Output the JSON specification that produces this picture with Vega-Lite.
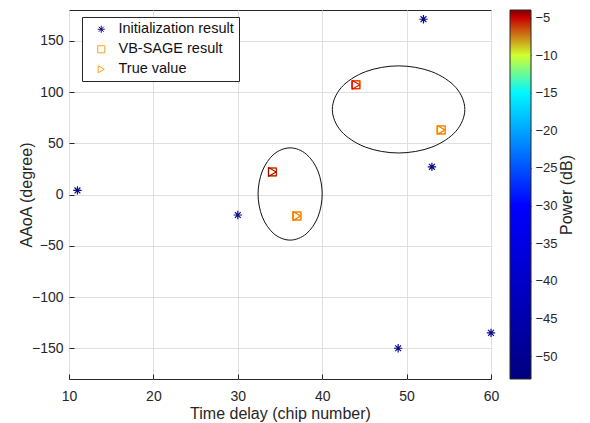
{
  "$schema": "https://vega.github.io/schema/vega-lite/v6.json",
  "width": 422,
  "height": 369,
  "autosize": "none",
  "padding": {"left": 69, "top": 10, "right": 99, "bottom": 44},
  "config": {
    "font": "Liberation Sans",
    "view": {"stroke": "#262626", "strokeWidth": 1},
    "axis": {
      "domain": false,
      "grid": true,
      "gridColor": "#dfdfdf",
      "gridOpacity": 1,
      "tickColor": "#262626",
      "tickSize": -5,
      "labelFontSize": 14,
      "labelColor": "#262626",
      "labelFlush": false,
      "titleFontSize": 16,
      "titleFontWeight": "normal",
      "titleColor": "#262626"
    }
  },
  "datasets": {
    "ellipse": [
      {"e": 1, "o": 0, "x": 40.0, "y": 0.5},
      {"e": 1, "o": 1, "x": 39.49, "y": 23.0},
      {"e": 1, "o": 2, "x": 38.1, "y": 39.47},
      {"e": 1, "o": 3, "x": 36.2, "y": 45.5},
      {"e": 1, "o": 4, "x": 34.3, "y": 39.47},
      {"e": 1, "o": 5, "x": 32.91, "y": 23.0},
      {"e": 1, "o": 6, "x": 32.4, "y": 0.5},
      {"e": 1, "o": 7, "x": 32.91, "y": -22.0},
      {"e": 1, "o": 8, "x": 34.3, "y": -38.47},
      {"e": 1, "o": 9, "x": 36.2, "y": -44.5},
      {"e": 1, "o": 10, "x": 38.1, "y": -38.47},
      {"e": 1, "o": 11, "x": 39.49, "y": -22.0},
      {"e": 2, "o": 0, "x": 56.9, "y": 83},
      {"e": 2, "o": 1, "x": 55.85, "y": 104.25},
      {"e": 2, "o": 2, "x": 52.98, "y": 119.81},
      {"e": 2, "o": 3, "x": 49.05, "y": 125.5},
      {"e": 2, "o": 4, "x": 45.13, "y": 119.81},
      {"e": 2, "o": 5, "x": 42.25, "y": 104.25},
      {"e": 2, "o": 6, "x": 41.2, "y": 83},
      {"e": 2, "o": 7, "x": 42.25, "y": 61.75},
      {"e": 2, "o": 8, "x": 45.13, "y": 46.19},
      {"e": 2, "o": 9, "x": 49.05, "y": 40.5},
      {"e": 2, "o": 10, "x": 52.98, "y": 46.19},
      {"e": 2, "o": 11, "x": 55.85, "y": 61.75}
    ],
    "pts": [
      {"series": "Initialization result", "x": 11, "y": 4, "power": -53},
      {"series": "Initialization result", "x": 30, "y": -20, "power": -53},
      {"series": "Initialization result", "x": 52, "y": 171, "power": -53},
      {"series": "Initialization result", "x": 53, "y": 27, "power": -53},
      {"series": "Initialization result", "x": 49, "y": -150, "power": -53},
      {"series": "Initialization result", "x": 60, "y": -135, "power": -53},
      {"series": "VB-SAGE result", "x": 34.1, "y": 22, "power": -4.5},
      {"series": "VB-SAGE result", "x": 37.0, "y": -21, "power": -7.3},
      {"series": "VB-SAGE result", "x": 44.0, "y": 107, "power": -5.6},
      {"series": "VB-SAGE result", "x": 54.1, "y": 63, "power": -7.4},
      {"series": "True value", "x": 34.1, "y": 22, "power": -4.5},
      {"series": "True value", "x": 37.0, "y": -21, "power": -7.3},
      {"series": "True value", "x": 44.0, "y": 107, "power": -5.6},
      {"series": "True value", "x": 54.1, "y": 63, "power": -7.4}
    ]
  },
  "resolve": {"scale": {"y": "independent"}, "axis": {"y": "independent"}},
  "layer": [
    {
      "layer": [
        {
          "data": {"name": "ellipse"},
          "mark": {"type": "line", "interpolate": "cardinal-closed", "color": "#111111", "strokeWidth": 1},
          "encoding": {
            "x": {"field": "x", "type": "quantitative", "scale": {"domain": [10, 60], "nice": false, "zero": false},
                  "axis": {"title": "Time delay (chip number)", "values": [10, 20, 30, 40, 50, 60], "labelPadding": 15, "titlePadding": 2}},
            "y": {"field": "y", "type": "quantitative", "scale": {"domain": [-180, 180], "nice": false, "zero": false},
                  "axis": {"title": "AAoA (degree)", "values": [-150, -100, -50, 0, 50, 100, 150], "labelPadding": 11, "titlePadding": -3}},
            "order": {"field": "o", "type": "quantitative"},
            "detail": {"field": "e", "type": "nominal"}
          }
        },
        {
          "data": {"name": "pts"},
          "mark": {"type": "point", "filled": false, "strokeWidth": 1.2, "size": 70, "opacity": 1},
          "encoding": {
            "x": {"field": "x", "type": "quantitative"},
            "y": {"field": "y", "type": "quantitative"},
            "shape": {
              "field": "series", "type": "nominal",
              "scale": {"domain": ["Initialization result", "VB-SAGE result", "True value"],
                        "range": ["M-1,0L1,0M0,-1L0,1M-0.7,-0.7L0.7,0.7M-0.7,0.7L0.7,-0.7", "square", "triangle-right"]},
              "legend": {"title": null, "orient": "none", "legendX": 13, "legendY": 7, "strokeColor": "#262626", "fillColor": "white",
                         "padding": 5, "rowPadding": 5, "symbolOffset": 7, "labelOffset": 10, "labelFontSize": 14.5, "labelColor": "#111111", "symbolSize": 50, "symbolStrokeWidth": 1}
            },
            "stroke": {
              "field": "series", "type": "nominal",
              "scale": {"domain": ["Initialization result", "VB-SAGE result", "True value"], "range": ["#0a0a8a", "#f7a21b", "#f7a21b"]},
              "legend": {"title": null, "orient": "none", "legendX": 13, "legendY": 7}
            }
          }
        },
        {
          "data": {"name": "pts"},
          "transform": [{"filter": "datum.series === 'VB-SAGE result'"}],
          "mark": {"type": "point", "shape": "square", "filled": false, "strokeWidth": 1, "size": 60, "opacity": 1},
          "encoding": {
            "x": {"field": "x", "type": "quantitative"},
            "y": {"field": "y", "type": "quantitative"},
            "color": {
              "field": "power", "type": "quantitative",
              "scale": {"domain": [-53.05, -30, -14.5, -9, -5.8, -4], "range": ["#000080", "#0000ff", "#00ffff", "#ffff00", "#ff0000", "#800000"], "interpolate": "rgb"},
              "legend": {
                "type": "gradient", "title": null, "orient": "none", "direction": "vertical",
                "legendX": 441, "legendY": 0, "gradientLength": 369, "gradientThickness": 21,
                "gradientStrokeColor": "#262626", "gradientStrokeWidth": 1, "gradientOpacity": 1,
                "labelExpr": "''", "padding": 0
              }
            }
          }
        },
        {
          "data": {"name": "pts"},
          "transform": [{"filter": "datum.series === 'True value'"}],
          "mark": {"type": "point", "shape": "triangle-right", "filled": false, "strokeWidth": 1, "size": 80, "opacity": 1},
          "encoding": {
            "x": {"field": "x", "type": "quantitative"},
            "y": {"field": "y", "type": "quantitative"},
            "color": {"field": "power", "type": "quantitative"}
          }
        }
      ]
    },
    {
      "data": {"name": "pts"},
      "mark": {"type": "point", "opacity": 0},
      "encoding": {
        "x": {"field": "x", "type": "quantitative"},
        "y": {"field": "power", "type": "quantitative",
              "scale": {"domain": [-53.05, -4], "nice": false, "zero": false},
              "axis": {"orient": "right", "offset": 40, "grid": false, "title": "Power (dB)", "titleAngle": 270,
                       "values": [-50, -45, -40, -35, -30, -25, -20, -15, -10, -5],
                       "tickSize": -4, "labelPadding": 8, "labelFontSize": 13, "titlePadding": 17}}
      }
    }
  ]
}
